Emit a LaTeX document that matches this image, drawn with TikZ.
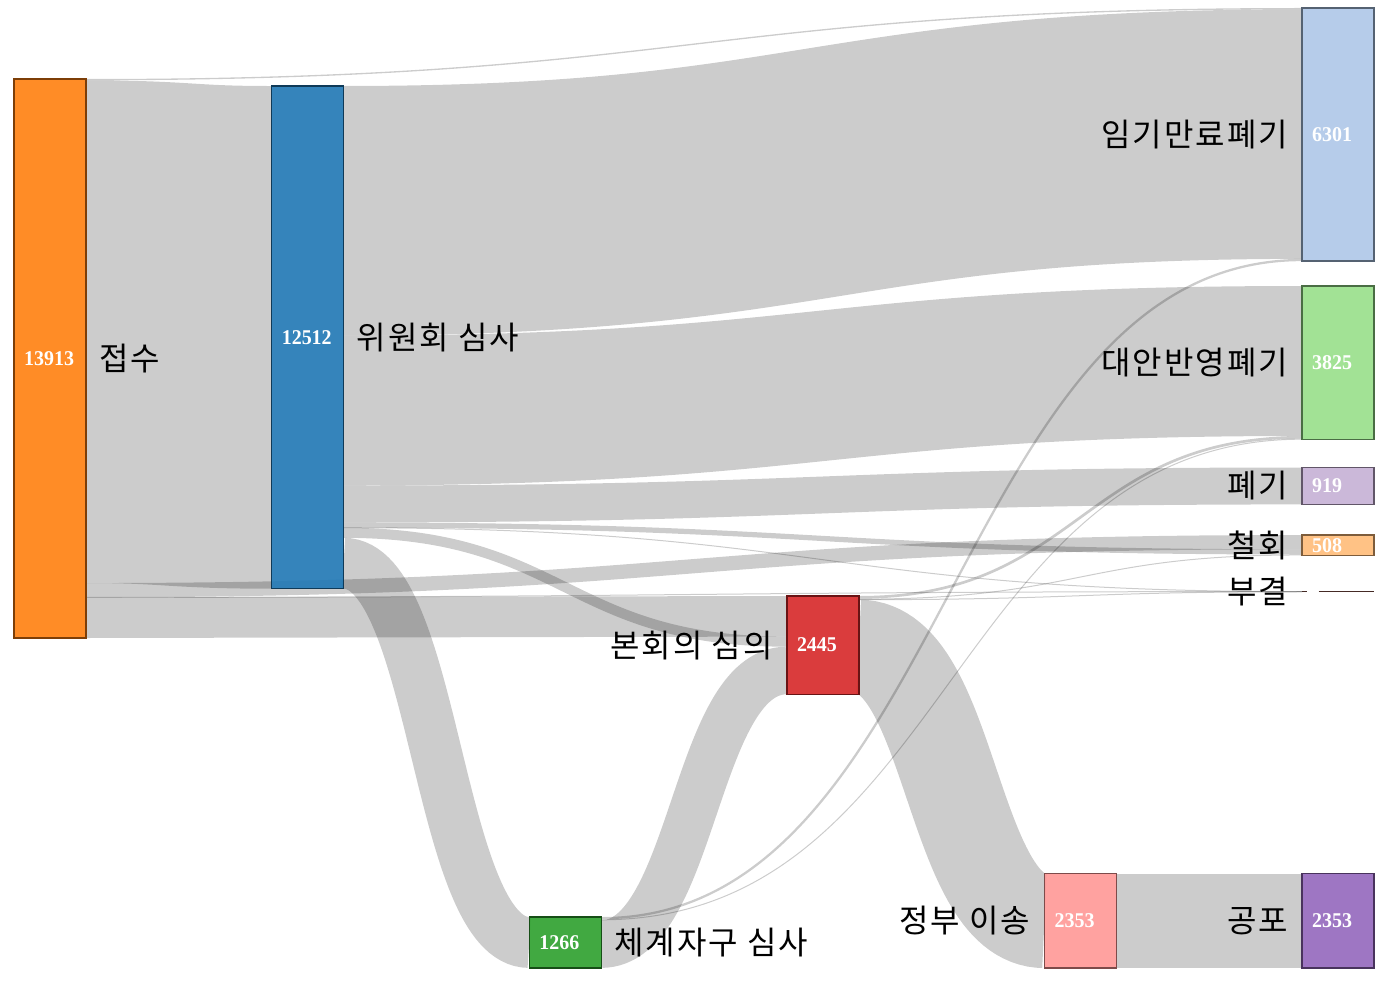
\documentclass[tikz,border=0pt]{standalone}
\usepackage{fontspec}
\usetikzlibrary{calc}
\newfontfamily\krfont[LetterSpace=6]{Noto Sans CJK KR}
\newfontfamily\numfont[FakeStretch=0.95]{Liberation Serif}
\definecolor{cA}{HTML}{FF7F0E}\definecolor{sA}{HTML}{7D3E07}
\definecolor{cB}{HTML}{1F77B4}\definecolor{sB}{HTML}{0F3A58}
\definecolor{cC}{HTML}{AEC7E8}\definecolor{sC}{HTML}{556272}
\definecolor{cD}{HTML}{98DF8A}\definecolor{sD}{HTML}{4A6D44}
\definecolor{cE}{HTML}{C5B0D5}\definecolor{sE}{HTML}{615668}
\definecolor{cF}{HTML}{FFBB78}\definecolor{sF}{HTML}{7D5C3B}
\definecolor{sG}{HTML}{452A25}
\definecolor{cH}{HTML}{D62728}\definecolor{sH}{HTML}{691314}
\definecolor{cI}{HTML}{2CA02C}\definecolor{sI}{HTML}{164E16}
\definecolor{cJ}{HTML}{FF9896}\definecolor{sJ}{HTML}{7D4B4A}
\definecolor{cK}{HTML}{9467BD}\definecolor{sK}{HTML}{49335D}
\pgfdeclarelayer{bg}
\pgfsetlayers{bg,main}
\tikzset{
  nd/.style={anchor=north west, inner sep=0pt, outer sep=0pt, minimum width=72pt, line width=1.4pt, fill opacity=0.9},
  lk/.style={draw=black, draw opacity=0.2},
  lab/.style={font=\krfont\fontsize{32}{36}\selectfont, inner sep=0pt, text=black},
  val/.style={font=\numfont\bfseries\fontsize{21}{24}\selectfont, inner sep=0pt, text=white, anchor=west},
}
\newcommand\lnk[3]{\draw[lk, line width=#3pt] let \p1=(#1), \p2=(#2) in (\p1) .. controls ({0.5*\x1+0.5*\x2},\y1) and ({0.5*\x1+0.5*\x2},\y2) .. (\p2);}
\begin{document}
\begin{tikzpicture}[x=1pt, y=-1pt]
\useasboundingbox (0,0) rectangle (1384,988);
% nodes
\node[nd, minimum height=559pt, fill=cA, draw=sA] (jeopsu) at (14,79) {};
\node[nd, minimum height=502.71pt, fill=cB, draw=sB] (wiwon) at (271.6,86) {};
\node[nd, minimum height=50.87pt, fill=cI, draw=sI] (chegye) at (529.2,917) {};
\node[nd, minimum height=98.24pt, fill=cH, draw=sH] (bonhoe) at (786.8,596) {};
\node[nd, minimum height=94.54pt, fill=cJ, draw=sJ] (jeongbu) at (1044.4,873.5) {};
\node[nd, minimum height=94.54pt, fill=cK, draw=sK] (gongpo) at (1302,873.5) {};
\node[nd, minimum height=253.16pt, fill=cC, draw=sC] (imgi) at (1302,8) {};
\node[nd, minimum height=153.68pt, fill=cD, draw=sD] (daean) at (1302,286) {};
\node[nd, minimum height=36.92pt, fill=cE, draw=sE] (pyegi) at (1302,467.5) {};
\node[nd, minimum height=20.41pt, fill=cF, draw=sF] (cheolhoe) at (1302,535) {};
\node[nd, minimum height=0.28pt] (bugyeol) at (1302,591.5) {};
\draw[sG, line width=1.4pt, dash pattern=on 4.5pt off 12pt on 60pt] (bugyeol.west) -- (bugyeol.east);
% links
\begin{pgfonlayer}{bg}
\lnk{[yshift=-0.66pt]jeopsu.north east}{[yshift=-0.66pt]imgi.north west}{1.33}
\lnk{[yshift=-252.68pt]jeopsu.north east}{[yshift=-251.36pt]wiwon.north west}{502.71}
\lnk{[yshift=-511.17pt]jeopsu.north east}{[yshift=-7.13pt]cheolhoe.north west}{14.26}
\lnk{[yshift=-518.36pt]jeopsu.north east}{[yshift=-0.06pt]bugyeol.north west}{1}
\lnk{[yshift=-538.71pt]jeopsu.north east}{[yshift=-20.29pt]bonhoe.north west}{40.58}
\lnk{[yshift=-124.77pt]wiwon.north east}{[yshift=-126.10pt]imgi.north west}{249.55}
\lnk{[yshift=-324.54pt]wiwon.north east}{[yshift=-74.99pt]daean.north west}{149.98}
\lnk{[yshift=-417.99pt]wiwon.north east}{[yshift=-18.46pt]pyegi.north west}{36.92}
\lnk{[yshift=-439.06pt]wiwon.north east}{[yshift=-16.87pt]cheolhoe.north west}{5.22}
\lnk{[yshift=-441.71pt]wiwon.north east}{[yshift=-0.16pt]bugyeol.north west}{1}
\lnk{[yshift=-446.79pt]wiwon.north east}{[yshift=-45.62pt]bonhoe.north west}{10.08}
\lnk{[yshift=-477.27pt]wiwon.north east}{[yshift=-25.44pt]chegye.north west}{50.87}
\lnk{[yshift=-1.145pt]chegye.north east}{[yshift=-252.02pt]imgi.north west}{2.29}
\lnk{[yshift=-2.79pt]chegye.north east}{[yshift=-153.17pt]daean.north west}{1}
\lnk{[yshift=-27.08pt]chegye.north east}{[yshift=-74.45pt]bonhoe.north west}{47.57}
\lnk{[yshift=-1.35pt]bonhoe.north east}{[yshift=-151.33pt]daean.north west}{2.69}
\lnk{[yshift=-3.15pt]bonhoe.north east}{[yshift=-19.94pt]cheolhoe.north west}{1}
\lnk{[yshift=-3.66pt]bonhoe.north east}{[yshift=-0.24pt]bugyeol.north west}{1}
\lnk{[yshift=-50.97pt]bonhoe.north east}{[yshift=-47.27pt]jeongbu.north west}{94.54}
\lnk{[yshift=-47.27pt]jeongbu.north east}{[yshift=-47.27pt]gongpo.north west}{94.54}
\end{pgfonlayer}
% value labels
\node[val] (v-jeopsu) at ([xshift=10pt]jeopsu.west) {13913};
\node[val] (v-wiwon) at ([xshift=10pt]wiwon.west) {12512};
\node[val] (v-chegye) at ([xshift=10pt]chegye.west) {1266};
\node[val] (v-bonhoe) at ([xshift=10pt]bonhoe.west) {2445};
\node[val] (v-jeongbu) at ([xshift=10pt]jeongbu.west) {2353};
\node[val] (v-gongpo) at ([xshift=10pt]gongpo.west) {2353};
\node[val] (v-imgi) at ([xshift=10pt]imgi.west) {6301};
\node[val] (v-daean) at ([xshift=10pt]daean.west) {3825};
\node[val] (v-pyegi) at ([xshift=10pt]pyegi.west) {919};
\node[val] (v-cheolhoe) at ([xshift=10pt]cheolhoe.west) {508};
% name labels
\node[lab, anchor=west] (l-jeopsu) at ([xshift=13pt]jeopsu.east) {접수};
\node[lab, anchor=west] (l-wiwon) at ([xshift=13pt]wiwon.east) {위원회 심사};
\node[lab, anchor=west] (l-chegye) at ([xshift=13pt]chegye.east) {체계자구 심사};
\node[lab, anchor=east] (l-bonhoe) at ([xshift=-14pt]bonhoe.west) {본회의 심의};
\node[lab, anchor=east] (l-jeongbu) at ([xshift=-14pt]jeongbu.west) {정부 이송};
\node[lab, anchor=east] (l-gongpo) at ([xshift=-14pt]gongpo.west) {공포};
\node[lab, anchor=east] (l-imgi) at ([xshift=-14pt]imgi.west) {임기만료폐기};
\node[lab, anchor=east] (l-daean) at ([xshift=-14pt]daean.west) {대안반영폐기};
\node[lab, anchor=east] (l-pyegi) at ([xshift=-14pt]pyegi.west) {폐기};
\node[lab, anchor=east] (l-cheolhoe) at ([xshift=-14pt]cheolhoe.west) {철회};
\node[lab, anchor=east] (l-bugyeol) at ([xshift=-14pt]bugyeol.west) {부결};
\end{tikzpicture}
\end{document}
